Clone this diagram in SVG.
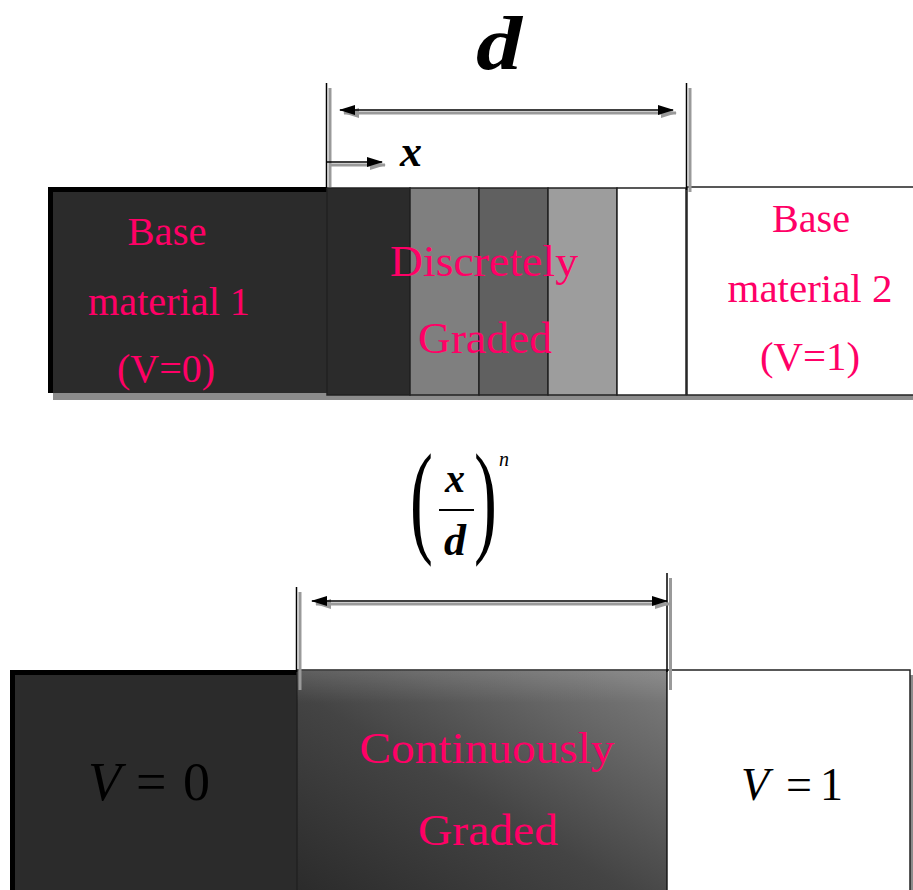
<svg xmlns="http://www.w3.org/2000/svg" width="913" height="890" viewBox="0 0 913 890">
<defs>
<style>
.lbl{font-family:"Liberation Serif","Times New Roman",serif;fill:#ff0066;text-anchor:middle}
.side{font-size:40px}
.mid{font-size:45px}
.math{font-family:"Liberation Serif","Times New Roman",serif;fill:#000}
.bi{font-weight:bold;font-style:italic}
.it{font-style:italic}
.ln{stroke:#000;stroke-width:1.5;fill:none}
.sh{stroke:#9a9a9a;stroke-width:3;fill:none}
.edge{stroke:#222;stroke-width:1.5}
</style>
<marker id="ah" viewBox="0 0 16 10" refX="15" refY="5" markerWidth="17" markerHeight="10" markerUnits="userSpaceOnUse" orient="auto-start-reverse"><path d="M0,0 L16,5 L0,10 z" fill="#000"/></marker>
<marker id="ahs" viewBox="0 0 16 10" refX="15" refY="5" markerWidth="17" markerHeight="10" markerUnits="userSpaceOnUse" orient="auto-start-reverse"><path d="M0,0 L16,5 L0,10 z" fill="#9a9a9a"/></marker>
<linearGradient id="grad" x1="0" y1="1" x2="1" y2="0">
<stop offset="0" stop-color="#2b2b2b"/>
<stop offset="0.45" stop-color="#444"/>
<stop offset="1" stop-color="#7e7e7e"/>
</linearGradient>
<linearGradient id="hl" x1="0" y1="0" x2="0" y2="1">
<stop offset="0" stop-color="#fff" stop-opacity="0.12"/>
<stop offset="0.15" stop-color="#fff" stop-opacity="0"/>
</linearGradient>
</defs>
<rect width="913" height="890" fill="#fff"/>

<!-- top bar shadow -->
<rect x="53" y="192" width="860" height="208" fill="#8c8c8c"/>

<g id="base1">
<rect x="48" y="187" width="279" height="206" fill="#000"/>
<rect x="53" y="192" width="274" height="201" fill="#2b2b2b"/>
<text class="lbl side" x="167" y="245" textLength="79" lengthAdjust="spacingAndGlyphs">Base</text>
<text class="lbl side" x="169" y="315" textLength="162" lengthAdjust="spacingAndGlyphs">material 1</text>
<text class="lbl side" x="166" y="382" textLength="98" lengthAdjust="spacingAndGlyphs">(V=0)</text>
</g>

<g id="discrete">
<rect x="327" y="188" width="83" height="207" fill="#2b2b2b" class="edge"/>
<rect x="410" y="188" width="69" height="207" fill="#7f7f7f" class="edge"/>
<rect x="479" y="188" width="69" height="207" fill="#606060" class="edge"/>
<rect x="548" y="188" width="69" height="207" fill="#9d9d9d" class="edge"/>
<rect x="617" y="188" width="69" height="207" fill="#ffffff" class="edge"/>
<text class="lbl mid" x="484" y="276" textLength="188" lengthAdjust="spacingAndGlyphs">Discretely</text>
<text class="lbl mid" x="485" y="353" textLength="134" lengthAdjust="spacingAndGlyphs">Graded</text>
</g>

<g id="base2">
<rect x="687" y="187" width="230" height="208" fill="#fff" class="edge"/>
<text class="lbl side" x="811" y="232" textLength="78" lengthAdjust="spacingAndGlyphs">Base</text>
<text class="lbl side" x="810" y="302" textLength="165" lengthAdjust="spacingAndGlyphs">material 2</text>
<text class="lbl side" x="810" y="370" textLength="100" lengthAdjust="spacingAndGlyphs">(V=1)</text>
</g>

<g id="label-d">
<text class="math bi" x="476" y="69" font-size="76" textLength="46" lengthAdjust="spacingAndGlyphs">d</text>
</g>
<g id="label-x">
<text class="math bi" x="400" y="166" font-size="44">x</text>
</g>

<g id="formula">
<text class="math" x="0" y="540" font-size="125" transform="translate(410,0) scale(0.55,1)">(</text>
<text class="math" x="0" y="540" font-size="125" transform="translate(474,0) scale(0.55,1)">)</text>
<text class="math bi" x="445" y="492" font-size="40">x</text>
<line x1="439" y1="510" x2="474" y2="510" stroke="#000" stroke-width="2"/>
<text class="math bi" x="444" y="555" font-size="44">d</text>
<text class="math it" x="499" y="466" font-size="20">n</text>
</g>

<!-- bottom bar shadow -->
<rect x="910" y="675" width="3" height="215" fill="#8c8c8c"/>

<g id="base-v0">
<rect x="10" y="670" width="287" height="222" fill="#000"/>
<rect x="15" y="675" width="282" height="217" fill="#2b2b2b"/>
<text class="math it" x="88" y="800" font-size="54">V</text>
<text class="math" x="136" y="800" font-size="54">=</text>
<text class="math" x="183" y="800" font-size="54">0</text>
</g>

<g id="continuous">
<rect x="297" y="670" width="370" height="222" fill="url(#grad)" class="edge"/>
<rect x="297" y="670" width="370" height="222" fill="url(#hl)"/>
<text class="lbl mid" x="487" y="763" textLength="255" lengthAdjust="spacingAndGlyphs">Continuously</text>
<text class="lbl mid" x="488" y="845" textLength="140" lengthAdjust="spacingAndGlyphs">Graded</text>
</g>

<g id="base-v1">
<rect x="667" y="670" width="243" height="222" fill="#fff" class="edge"/>
<text class="math it" x="741" y="800" font-size="46">V</text>
<text class="math" x="786" y="800" font-size="46">=</text>
<text class="math" x="820" y="800" font-size="46">1</text>
</g>

<g id="connectors">
<line class="sh" x1="330" y1="88" x2="330" y2="187"/>
<line class="ln" x1="326.5" y1="83" x2="326.5" y2="188"/>
<line class="sh" x1="690" y1="88" x2="690" y2="192"/>
<line class="ln" x1="686.5" y1="83" x2="686.5" y2="190"/>
<line class="sh" x1="344" y1="113" x2="676" y2="113" marker-start="url(#ahs)" marker-end="url(#ahs)"/>
<line class="ln" x1="340" y1="110" x2="673" y2="110" marker-start="url(#ah)" marker-end="url(#ah)"/>
<line class="sh" x1="330" y1="165" x2="385" y2="165" marker-end="url(#ahs)"/>
<line class="ln" x1="327" y1="162" x2="382" y2="162" marker-end="url(#ah)"/>
<line class="sh" x1="300" y1="592" x2="300" y2="690"/>
<line class="ln" x1="296.5" y1="587" x2="296.5" y2="672"/>
<line class="sh" x1="670.5" y1="578" x2="670.5" y2="690"/>
<line class="ln" x1="667" y1="573" x2="667" y2="672"/>
<line class="sh" x1="316" y1="604" x2="670" y2="604" marker-start="url(#ahs)" marker-end="url(#ahs)"/>
<line class="ln" x1="312" y1="601" x2="667" y2="601" marker-start="url(#ah)" marker-end="url(#ah)"/>
</g>
</svg>
